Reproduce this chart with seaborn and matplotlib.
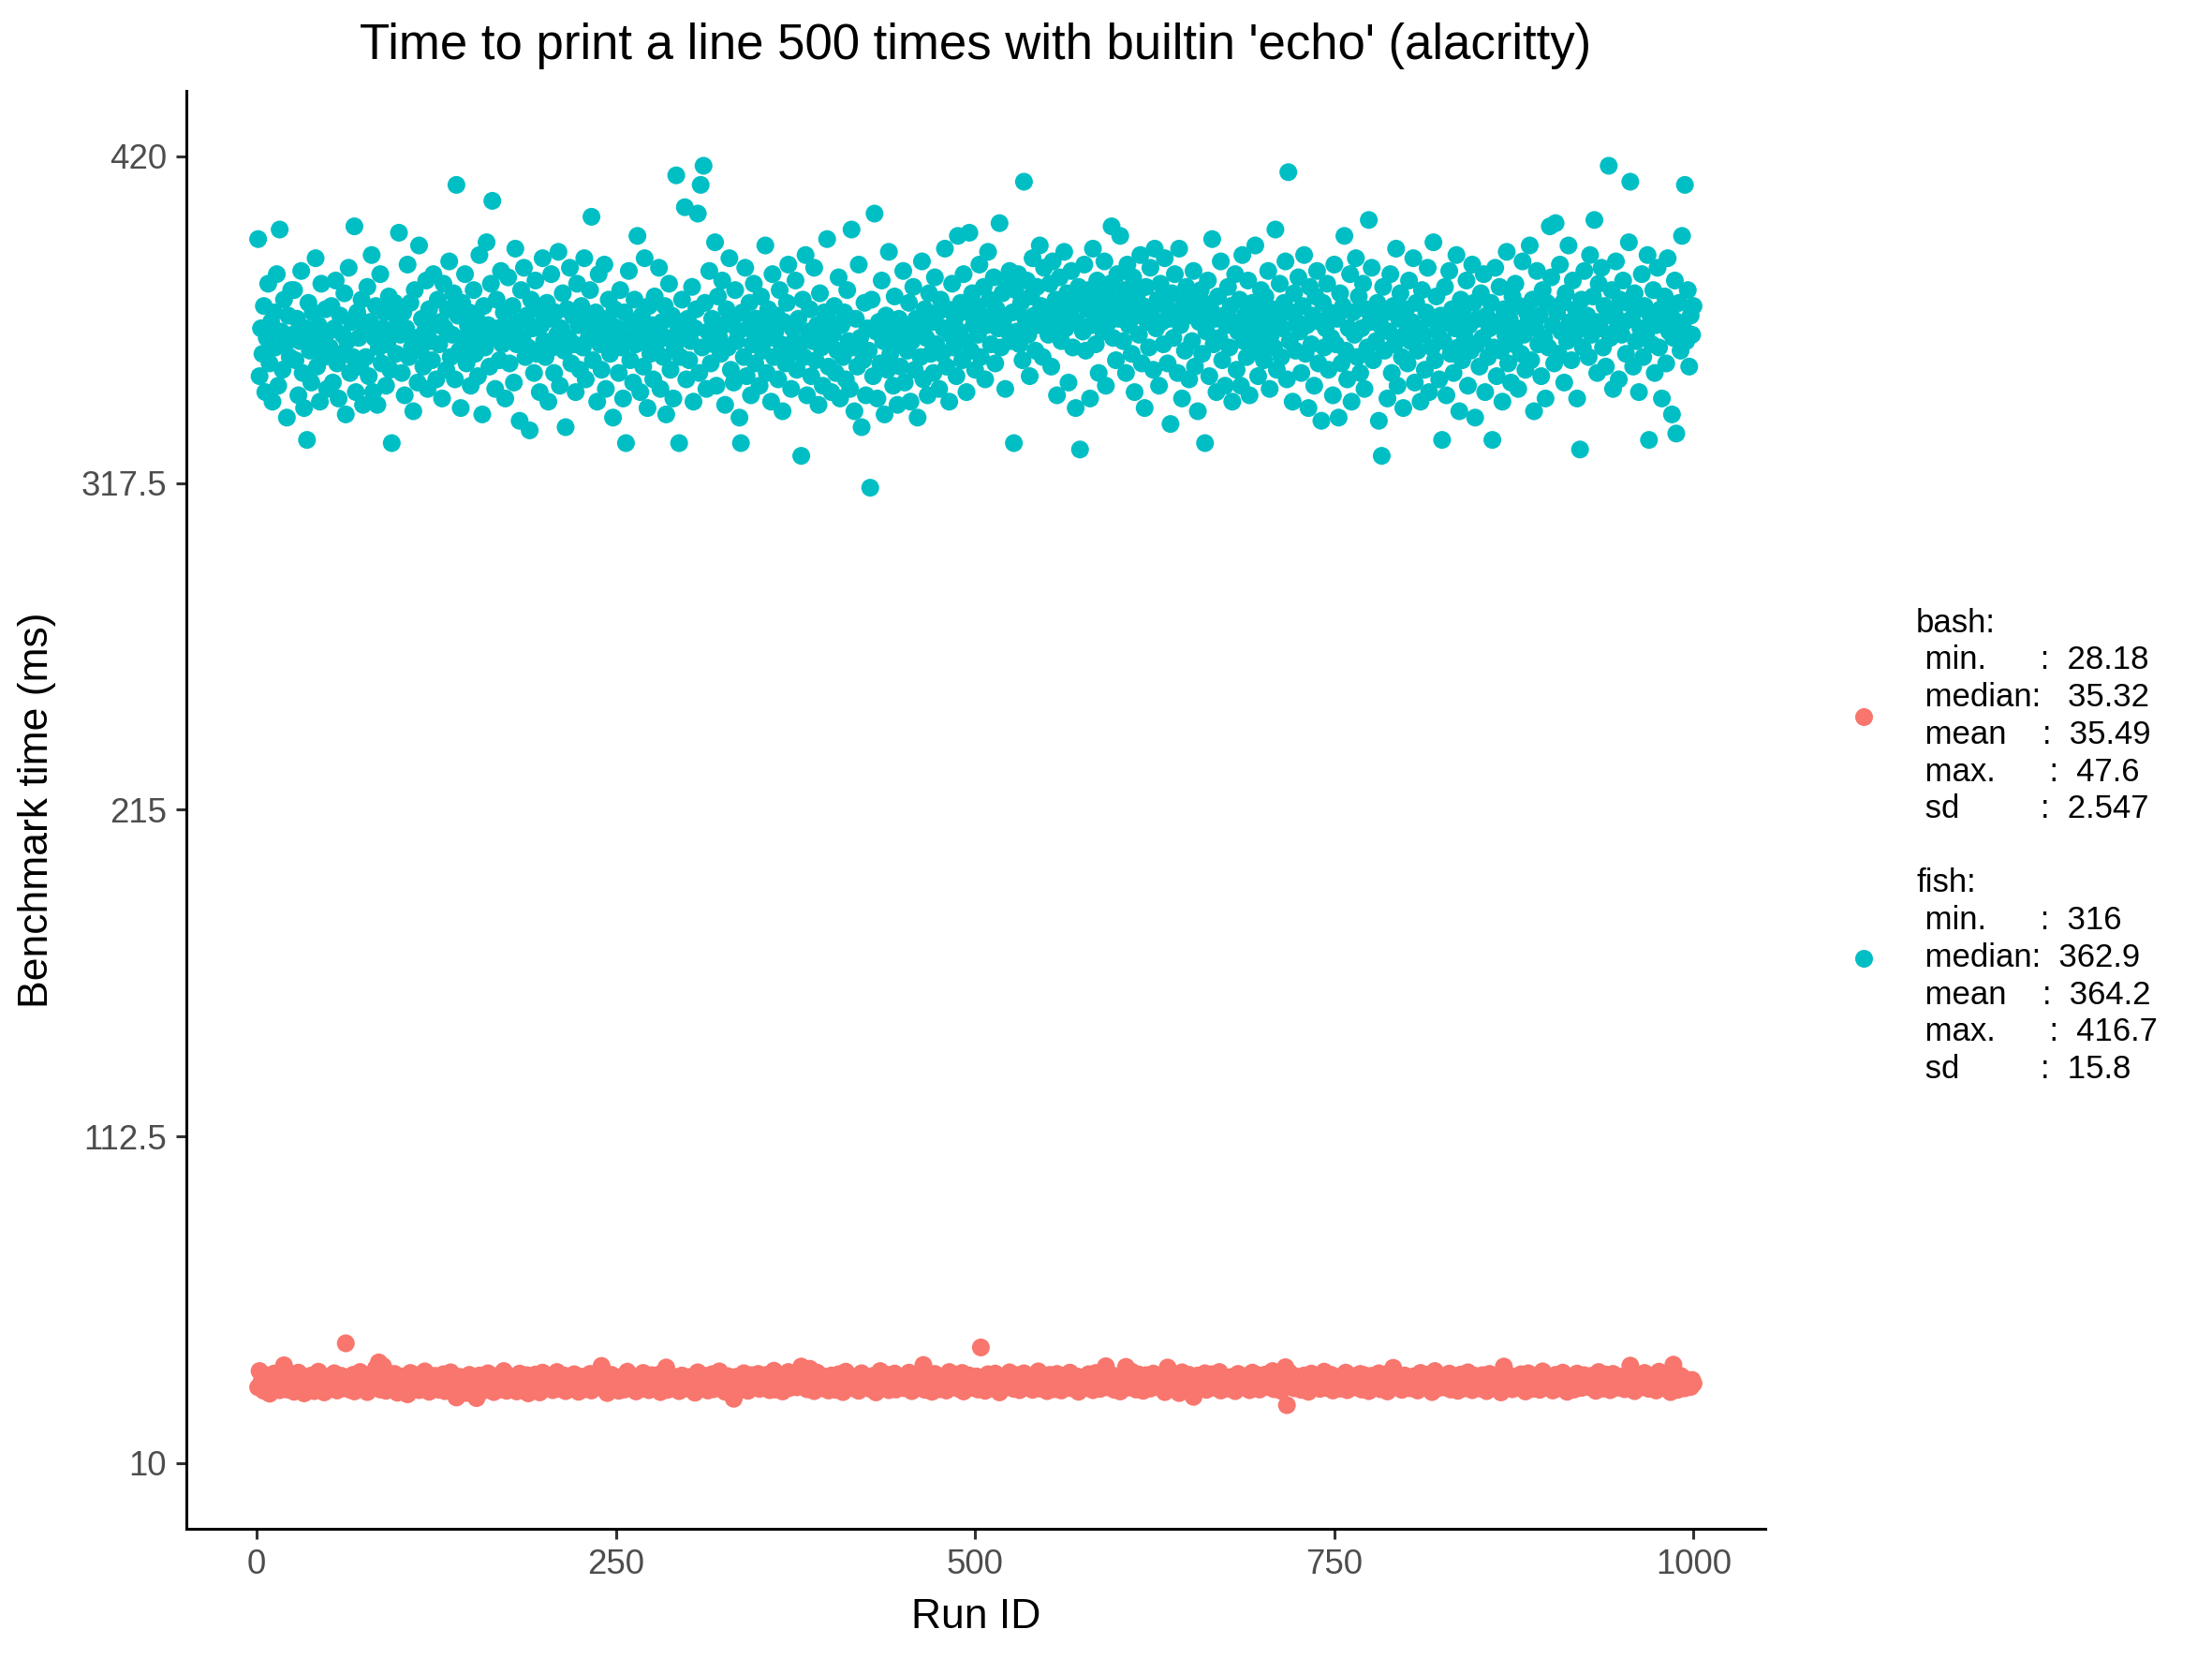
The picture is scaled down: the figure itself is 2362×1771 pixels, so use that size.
import numpy as np
import pandas as pd
import matplotlib
matplotlib.use("Agg")
import matplotlib.pyplot as plt
import seaborn as sns

# ---------------- data (values read/estimated from the reference) ----------------
shells = ["bash", "fish"]
palette_colors = ["#F8766D", "#00BFC4"]

bash_times = [
    33.8, 38.9, 35.1, 36.4, 32.7, 37.6, 34.2, 35.9, 31.8, 36.8, 34.6, 38.1, 33.4, 35.5, 37.2, 32.9, 36.1, 34.8, 40.7, 35.0, 33.1, 36.7, 34.4, 37.9, 35.3,
    32.4, 36.2, 34.9, 38.4, 33.6, 35.8, 37.1, 31.9, 35.2, 36.9, 34.0, 33.3, 37.5, 35.6, 32.6, 36.5, 34.7, 38.7, 33.9, 35.4, 36.3, 32.2, 34.5, 37.0, 35.7,
    33.2, 36.0, 34.3, 38.2, 35.9, 32.8, 36.6, 34.1, 37.4, 33.5, 35.1, 47.6, 34.6, 36.8, 33.0, 35.3, 37.7, 32.5, 35.8, 34.2, 36.4, 38.6, 33.7, 35.0, 36.1,
    34.9, 32.3, 37.3, 35.5, 33.8, 36.7, 34.4, 39.8, 35.2, 41.6, 33.1, 36.2, 40.4, 34.8, 32.7, 37.8, 35.6, 33.6, 36.9, 34.0, 38.0, 35.4, 32.1, 36.5, 34.7,
    37.2, 33.4, 35.8, 36.3, 31.6, 34.5, 38.3, 35.1, 33.9, 36.6, 34.2, 37.6, 32.9, 35.7, 36.0, 33.3, 38.8, 34.6, 35.9, 32.4, 36.8, 35.0, 33.7, 37.4, 34.3,
    35.6, 33.0, 36.4, 34.8, 37.9, 32.6, 35.3, 36.7, 34.1, 38.5, 33.5, 35.8, 36.2, 30.6, 34.9, 37.1, 35.5, 33.2, 36.9, 34.4, 32.0, 35.2, 37.7, 34.6, 36.1,
    33.9, 36.6, 30.4, 35.4, 37.5, 34.0, 36.3, 32.8, 35.9, 34.7, 38.2, 33.6, 35.1, 36.8, 32.3, 34.5, 37.3, 35.7, 33.1, 36.0, 34.2, 38.9, 35.5, 32.7, 36.5,
    34.8, 37.0, 33.4, 35.6, 36.9, 32.5, 35.0, 38.1, 34.3, 36.2, 33.8, 35.9, 37.6, 31.9, 34.9, 36.4, 35.2, 33.0, 37.8, 34.6, 36.7, 32.2, 35.3, 38.4, 34.1,
    36.0, 33.7, 35.4, 37.2, 34.4, 32.9, 36.6, 35.1, 38.6, 33.3, 35.8, 36.3, 34.0, 37.5, 32.6, 35.6, 34.7, 36.9, 33.5, 35.2, 37.9, 34.2, 36.1, 32.4, 35.7,
    34.5, 37.1, 33.2, 35.9, 36.5, 34.1, 38.0, 32.8, 35.3, 36.8, 33.9, 35.0, 37.4, 34.6, 40.5, 33.4, 36.2, 35.5, 32.0, 36.7, 34.3, 37.7, 35.1, 33.6, 36.0,
    35.8, 32.7, 36.4, 34.9, 37.3, 33.1, 35.6, 38.7, 34.2, 36.1, 33.8, 35.2, 37.0, 32.5, 35.9, 34.4, 36.6, 33.3, 38.3, 35.4, 34.0, 36.9, 32.9, 35.7, 37.6,
    34.1, 36.3, 33.5, 35.0, 37.8, 32.3, 35.5, 36.7, 34.7, 40.0, 33.0, 35.3, 36.0, 34.5, 37.2, 33.7, 35.8, 36.5, 32.6, 34.9, 37.5, 35.1, 33.4, 36.8, 34.3,
    37.0, 33.9, 35.6, 36.2, 32.1, 34.8, 38.5, 35.2, 33.6, 36.4, 34.0, 37.4, 35.9, 32.8, 36.1, 34.6, 37.9, 33.2, 35.4, 36.6, 34.2, 38.8, 33.8, 35.7, 36.9,
    32.4, 35.0, 37.3, 34.4, 36.0, 33.5, 30.2, 35.8, 37.1, 34.1, 36.7, 33.0, 35.3, 38.2, 34.8, 36.3, 32.7, 35.5, 37.6, 33.9, 36.5, 34.3, 35.1, 38.0, 33.3,
    35.9, 36.8, 33.7, 35.2, 37.7, 34.5, 32.9, 36.1, 35.4, 39.0, 33.1, 35.7, 36.4, 34.0, 37.3, 32.5, 35.0, 36.9, 34.7, 38.6, 33.6, 35.3, 37.0, 34.2, 36.2,
    33.8, 36.6, 35.1, 40.3, 34.3, 36.0, 37.8, 33.2, 35.6, 39.6, 34.9, 36.3, 32.6, 35.4, 38.4, 34.1, 36.7, 33.5, 35.8, 37.2, 34.6, 36.1, 32.8, 35.2, 37.5,
    34.4, 36.8, 33.0, 35.5, 37.9, 34.2, 36.2, 32.3, 35.9, 38.7, 33.7, 35.1, 36.5, 34.8, 37.1, 33.4, 35.7, 36.9, 32.7, 34.5, 38.2, 35.3, 33.9, 36.4, 34.0,
    36.6, 33.3, 35.0, 37.4, 34.7, 32.2, 36.0, 35.6, 38.9, 33.6, 35.2, 36.7, 34.1, 37.7, 32.9, 35.8, 36.3, 34.5, 38.1, 33.1, 35.4, 36.9, 34.3, 37.0, 35.1,
    33.5, 36.1, 34.9, 38.4, 35.3, 32.6, 36.6, 34.2, 37.3, 35.7, 33.8, 36.4, 34.6, 40.8, 33.0, 35.5, 37.6, 34.0, 36.2, 32.4, 35.9, 38.0, 34.4, 36.8, 33.2,
    35.6, 37.1, 34.3, 36.0, 32.8, 35.2, 38.6, 33.9, 36.5, 34.7, 37.8, 35.0, 33.4, 36.3, 34.8, 38.3, 32.5, 35.8, 36.9, 34.1, 37.5, 33.6, 35.4, 36.2, 34.5,
    37.2, 33.1, 35.7, 46.3, 36.4, 34.2, 32.7, 35.9, 37.9, 34.6, 36.1, 33.5, 35.3, 38.1, 34.0, 36.7, 32.2, 35.5, 37.0, 34.4, 36.3, 33.8, 35.1, 38.5, 34.8,
    36.0, 33.3, 35.6, 37.6, 34.9, 32.9, 36.5, 35.2, 38.2, 33.7, 35.8, 36.8, 34.3, 37.3, 33.0, 35.4, 36.2, 34.7, 38.8, 33.4, 35.9, 37.1, 34.1, 36.6, 32.6,
    35.0, 37.7, 34.5, 36.3, 33.2, 35.6, 38.0, 34.2, 36.9, 32.8, 35.3, 37.4, 33.9, 36.1, 34.8, 38.4, 33.5, 35.7, 36.4, 34.0, 37.2, 32.4, 35.2, 36.7, 34.6,
    36.8, 33.6, 35.1, 37.9, 34.4, 36.2, 32.9, 35.8, 38.3, 34.1, 36.5, 33.3, 35.5, 37.0, 34.7, 40.4, 33.8, 35.9, 36.6, 34.3, 37.5, 33.0, 35.4, 36.0, 34.9,
    32.5, 35.7, 37.3, 34.2, 40.2, 33.7, 36.3, 35.0, 38.7, 34.5, 36.9, 33.1, 35.6, 37.8, 34.8, 36.1, 32.7, 35.3, 37.6, 34.0, 36.7, 33.4, 35.8, 38.1, 34.6,
    36.4, 33.9, 35.2, 37.1, 34.3, 36.8, 32.3, 35.5, 40.0, 34.9, 36.2, 33.6, 35.9, 37.4, 34.1, 36.6, 32.0, 35.1, 38.5, 34.7, 36.0, 33.2, 35.7, 37.7, 34.4,
    35.4, 30.8, 36.9, 34.6, 37.5, 33.5, 35.8, 36.3, 34.2, 38.2, 33.0, 35.6, 36.7, 34.8, 37.9, 33.7, 35.0, 36.4, 34.0, 38.6, 32.8, 35.3, 37.2, 34.5, 36.1,
    33.4, 35.9, 37.0, 34.7, 36.5, 32.6, 35.2, 38.0, 34.1, 36.8, 33.8, 35.5, 37.3, 34.4, 36.2, 32.9, 35.7, 38.4, 33.6, 36.0, 34.9, 37.6, 33.1, 35.4, 36.6,
    34.3, 37.8, 33.9, 35.6, 36.3, 34.6, 38.9, 33.2, 35.1, 36.7, 34.0, 37.4, 32.7, 35.8, 36.1, 40.1, 28.2, 35.3, 38.3, 34.2, 36.9, 33.5, 35.0, 37.1, 34.8,
    36.4, 33.0, 35.7, 37.5, 34.5, 36.0, 32.4, 35.4, 38.1, 33.7, 36.6, 34.1, 35.9, 37.2, 33.3, 36.2, 34.8, 38.7, 33.6, 35.1, 36.8, 34.3, 37.7, 32.8, 35.5,
    36.3, 34.0, 37.0, 33.4, 35.8, 36.5, 34.6, 38.4, 32.9, 35.2, 36.9, 34.2, 37.3, 33.8, 35.6, 36.1, 34.4, 38.0, 33.1, 35.9, 37.6, 34.7, 36.2, 32.6, 35.3,
    37.4, 33.6, 35.0, 36.7, 34.1, 38.2, 33.2, 35.7, 36.4, 34.9, 37.9, 32.5, 35.4, 36.0, 34.3, 39.9, 33.9, 35.1, 37.1, 34.6, 36.6, 33.0, 35.8, 37.5, 34.0,
    35.5, 36.8, 33.5, 35.9, 37.2, 34.4, 36.3, 32.8, 35.2, 38.3, 34.0, 36.1, 33.7, 35.6, 37.7, 34.7, 36.5, 32.3, 35.0, 38.9, 33.3, 35.8, 36.9, 34.2, 37.0,
    33.8, 35.3, 36.6, 34.8, 38.1, 33.1, 35.7, 37.3, 34.5, 36.2, 32.7, 35.4, 37.8, 34.1, 36.7, 33.5, 35.1, 38.5, 34.3, 36.0, 32.9, 35.6, 37.4, 34.9, 36.4,
    35.0, 33.4, 37.6, 34.6, 36.1, 32.6, 35.9, 38.0, 34.2, 36.8, 33.9, 35.5, 37.1, 34.7, 36.3, 32.2, 35.2, 40.3, 33.6, 36.5, 34.0, 37.5, 35.3, 33.2, 36.9,
    34.4, 36.0, 33.7, 35.8, 37.9, 34.8, 36.4, 32.5, 35.1, 38.2, 34.1, 36.6, 33.3, 35.6, 37.3, 34.5, 36.2, 33.0, 35.4, 38.8, 34.3, 36.7, 33.8, 35.9, 37.0,
    34.6, 32.8, 35.7, 37.7, 34.0, 36.5, 33.5, 35.2, 38.4, 34.7, 36.1, 32.4, 35.5, 37.2, 34.2, 36.8, 33.1, 35.8, 38.1, 34.9, 36.3, 33.6, 35.0, 37.6, 34.4,
    36.0, 33.9, 35.3, 37.4, 34.5, 36.7, 32.7, 35.6, 38.6, 34.1, 36.4, 33.4, 35.9, 37.8, 34.8, 36.2, 32.9, 35.1, 38.0, 34.3, 36.9, 33.7, 35.4, 37.1, 34.6,
    36.5, 33.2, 35.8, 37.5, 34.2, 40.6, 34.7, 36.1, 32.6, 35.0, 37.3, 34.4, 36.6, 33.8, 35.5, 38.3, 34.0, 36.3, 33.3, 35.7, 37.0, 34.9, 36.8, 32.8, 35.2,
    38.7, 34.1, 36.0, 33.6, 35.4, 37.6, 34.6, 36.4, 32.3, 35.9, 40.9, 34.3, 36.2, 33.0, 35.6, 37.4, 34.8, 36.7, 33.5, 35.1, 34.4, 35.8, 33.9, 36.1, 35.0,
]

fish_times = [
    394, 351, 366, 358, 373, 346, 363, 380, 355, 368, 343, 371, 360, 383, 348, 397, 365, 353, 375, 361, 338, 370, 357, 378, 364,
    378, 356, 369, 345, 362, 384, 352, 341, 366, 331, 374, 359, 349, 371, 364, 388, 354, 367, 343, 380, 361, 357, 372, 347, 365,
    360, 373, 349, 366, 381, 355, 344, 370, 358, 364, 377, 339, 362, 385, 352, 368, 357, 398, 346, 371, 363, 354, 375, 342, 367,
    357, 379, 351, 368, 389, 346, 363, 373, 342, 360, 383, 355, 366, 371, 348, 361, 376, 353, 330, 365, 374, 358, 369, 396, 364,
    352, 371, 345, 366, 386, 357, 374, 360, 340, 378, 363, 349, 392, 359, 369, 354, 365, 381, 347, 372, 362, 356, 383, 367, 350,
    375, 361, 368, 344, 380, 366, 353, 372, 387, 357, 364, 377, 350, 411, 370, 359, 341, 374, 363, 383, 355, 367, 371, 348, 362,
    378, 358, 369, 351, 389, 365, 339, 373, 360, 393, 367, 354, 380, 406, 363, 347, 375, 366, 356, 384, 361, 371, 344, 368, 382,
    355, 365, 373, 349, 391, 361, 368, 337, 378, 363, 385, 357, 370, 360, 334, 375, 366, 352, 381, 358, 372, 346, 367, 388, 362,
    357, 374, 343, 369, 383, 360, 352, 371, 364, 390, 348, 366, 377, 359, 335, 372, 363, 385, 355, 370, 361, 346, 380, 367, 353,
    373, 360, 388, 350, 368, 363, 378, 401, 356, 365, 371, 343, 383, 361, 353, 369, 386, 347, 364, 375, 358, 367, 338, 372, 361,
    366, 352, 378, 360, 344, 371, 330, 363, 384, 356, 368, 349, 375, 361, 395, 365, 346, 370, 354, 388, 362, 341, 373, 358, 367,
    350, 376, 361, 365, 385, 347, 368, 357, 373, 339, 363, 380, 353, 370, 344, 360, 414, 367, 330, 357, 375, 364, 404, 350, 369,
    356, 362, 379, 343, 366, 372, 402, 352, 411, 360, 417, 374, 347, 365, 384, 355, 369, 361, 393, 348, 376, 363, 358, 381, 367,
    342, 372, 360, 388, 353, 368, 349, 378, 362, 365, 338, 330, 371, 357, 385, 351, 366, 374, 345, 361, 380, 355, 369, 364, 348,
    376, 359, 367, 392, 352, 372, 363, 343, 383, 357, 365, 370, 350, 378, 361, 340, 368, 355, 374, 386, 358, 347, 366, 362, 381,
    353, 369, 361, 326, 375, 357, 389, 345, 365, 372, 351, 362, 385, 356, 367, 342, 377, 360, 348, 371, 363, 394, 354, 368, 346,
    364, 373, 352, 359, 382, 344, 367, 357, 371, 350, 378, 362, 347, 397, 360, 340, 369, 354, 386, 363, 335, 356, 374, 345, 366,
    359, 316, 375, 351, 402, 365, 344, 368, 355, 381, 362, 339, 370, 353, 390, 358, 366, 348, 376, 361, 342, 369, 354, 364, 384,
    349, 367, 359, 374, 343, 362, 379, 353, 369, 338, 365, 357, 387, 350, 372, 363, 345, 377, 358, 368, 352, 382, 361, 371, 347,
    375, 358, 366, 391, 354, 372, 343, 364, 380, 360, 369, 351, 395, 365, 374, 356, 383, 362, 346, 371, 396, 359, 377, 367, 353,
    373, 364, 386, 357, 370, 379, 350, 367, 390, 375, 361, 368, 382, 355, 372, 366, 399, 360, 377, 369, 347, 380, 365, 384, 362,
    371, 330, 378, 365, 383, 361, 374, 356, 412, 369, 381, 364, 351, 376, 388, 370, 359, 379, 367, 392, 373, 357, 385, 368, 372,
    364, 380, 354, 387, 370, 375, 345, 367, 382, 362, 373, 390, 366, 377, 349, 371, 384, 360, 375, 341, 368, 379, 328, 374, 365,
    386, 359, 372, 378, 344, 367, 391, 374, 361, 381, 352, 370, 377, 365, 387, 348, 373, 368, 380, 398, 363, 375, 356, 383, 369,
    395, 371, 362, 378, 352, 386, 367, 374, 358, 382, 346, 370, 377, 364, 389, 355, 373, 341, 379, 368, 360, 385, 372, 353, 391,
    366, 375, 348, 380, 368, 361, 388, 373, 355, 369, 336, 377, 363, 383, 371, 352, 391, 367, 344, 374, 359, 379, 370, 350, 376,
    362, 384, 354, 371, 340, 368, 378, 358, 374, 330, 365, 381, 351, 372, 394, 361, 369, 346, 376, 363, 387, 356, 370, 348, 367,
    379, 360, 373, 343, 368, 383, 353, 365, 375, 348, 389, 362, 370, 357, 381, 345, 367, 374, 359, 392, 364, 351, 371, 378, 361,
    356, 376, 368, 384, 347, 364, 372, 360, 397, 353, 369, 380, 357, 366, 374, 387, 350, 415, 362, 371, 343, 377, 359, 368, 382,
    365, 352, 373, 389, 358, 367, 341, 379, 361, 370, 348, 376, 384, 355, 368, 337, 374, 360, 366, 380, 353, 371, 363, 345, 386,
    361, 369, 338, 377, 355, 373, 395, 359, 350, 366, 383, 343, 371, 364, 388, 357, 376, 352, 366, 380, 347, 372, 360, 400, 368,
    385, 356, 370, 362, 374, 337, 367, 326, 379, 359, 371, 344, 365, 383, 352, 373, 361, 391, 348, 369, 377, 357, 341, 364, 372,
    355, 381, 362, 368, 388, 349, 374, 359, 366, 343, 378, 364, 353, 371, 385, 346, 369, 360, 393, 356, 376, 365, 350, 370, 331,
    362, 379, 345, 368, 384, 358, 372, 352, 366, 389, 360, 340, 375, 356, 370, 363, 381, 348, 367, 359, 386, 374, 338, 361, 369,
    354, 377, 363, 383, 346, 370, 357, 366, 374, 331, 360, 385, 351, 368, 379, 359, 343, 372, 364, 390, 355, 369, 349, 376, 361,
    380, 366, 347, 373, 358, 387, 364, 353, 371, 368, 392, 356, 375, 340, 366, 384, 361, 370, 351, 378, 363, 344, 374, 360, 398,
    382, 367, 355, 399, 371, 358, 386, 365, 374, 349, 377, 362, 392, 368, 356, 381, 364, 372, 344, 369, 328, 375, 360, 384, 367,
    370, 357, 389, 364, 376, 400, 368, 352, 380, 366, 385, 360, 373, 354, 370, 417, 363, 378, 347, 371, 387, 366, 350, 375, 364,
    381, 368, 358, 374, 393, 412, 369, 354, 377, 362, 372, 346, 366, 383, 357, 373, 364, 389, 331, 370, 361, 378, 352, 367, 385,
    360, 372, 344, 369, 376, 355, 388, 365, 371, 339, 363, 381, 333, 368, 374, 359, 395, 366, 411, 362, 378, 354, 370, 364, 373,
]

legend_labels = [
    "bash:\n min.      :  28.18\n median:   35.32\n mean    :  35.49\n max.      :  47.6\n sd         :  2.547",
    "\nfish:\n min.      :  316\n median:  362.9\n mean    :  364.2\n max.      :  416.7\n sd         :  15.8",
]

y_ticks = [10, 112.5, 215, 317.5, 420]
y_tick_labels = ["10", "112.5", "215", "317.5", "420"]
x_ticks = [0, 250, 500, 750, 1000]

title = "Time to print a line 500 times with builtin 'echo' (alacritty)"
x_label = "Run ID"
y_label = "Benchmark time (ms)"

# ---------------- build table ----------------
df = pd.concat([
    pd.DataFrame({"run": np.arange(1, len(bash_times) + 1), "time": bash_times, "shell": shells[0]}),
    pd.DataFrame({"run": np.arange(1, len(fish_times) + 1), "time": fish_times, "shell": shells[1]}),
], ignore_index=True)

# ---------------- plot ----------------
sns.set_theme(style="white")
plt.rcParams["font.family"] = ["Liberation Sans", "DejaVu Sans"]

W, H, DPI = 2362, 1771, 200
fig = plt.figure(figsize=(W / DPI, H / DPI), dpi=DPI)
ax_left, ax_bottom = 199 / W, 1 - 1631.7 / H
ax_w, ax_h = (1885 - 199) / W, (1631.7 - 97) / H
ax = fig.add_axes([ax_left, ax_bottom, ax_w, ax_h])

sns.scatterplot(data=df, x="run", y="time", hue="shell", hue_order=shells,
                palette=dict(zip(shells, palette_colors)), s=47, linewidth=0,
                alpha=1.0, ax=ax)

ax.set_xlim(-48.95, 1049.95)
ax.set_ylim(-10.5, 440.5)
ax.set_xticks(x_ticks)
ax.set_xticklabels([str(t) for t in x_ticks])
ax.set_yticks(y_ticks)
ax.set_yticklabels(y_tick_labels)

sns.despine(ax=ax)
for side in ["left", "bottom"]:
    ax.spines[side].set_color("black")
    ax.spines[side].set_linewidth(1.1)

ax.tick_params(axis="both", which="major", length=3.8, width=1.1, color="#333333",
               labelcolor="#4D4D4D", labelsize=13.2, pad=3.8, direction="out",
               left=True, bottom=True)

ax.set_xlabel(x_label, fontsize=16, color="black", labelpad=6.5)
ax.set_ylabel(y_label, fontsize=16, color="black", labelpad=9.5)
fig.suptitle(title, fontsize=19, color="black", x=ax_left + ax_w / 2, y=1 - 63 / H, va="baseline")

handles, _ = ax.get_legend_handles_labels()
leg_fs = 12.5
leg = ax.legend(handles=handles[-2:], labels=legend_labels, loc="upper left",
                bbox_to_anchor=(1972.5 / W, 1 - 648.8 / H), bbox_transform=fig.transFigure,
                frameon=False, fontsize=leg_fs, handlelength=1.0,
                handletextpad=1.12, labelspacing=0.19, borderpad=0, borderaxespad=0)
for t in leg.get_texts():
    t.set_linespacing(1.257)
    t.set_color("black")

fig.savefig("out.png", dpi=DPI)
